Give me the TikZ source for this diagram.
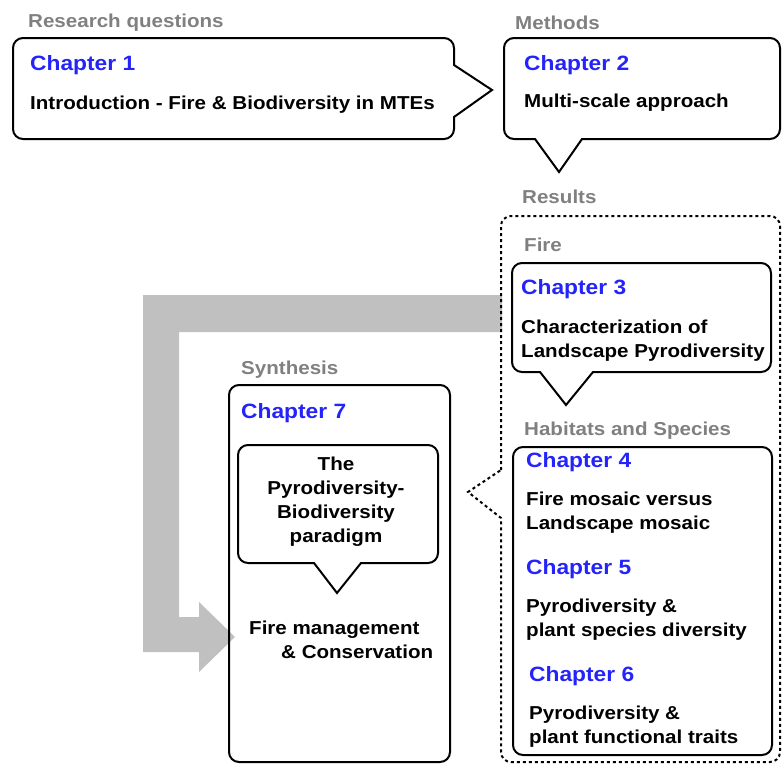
\documentclass[tikz,border=0pt]{standalone}
\usepackage{fontspec}
\setmainfont{Liberation Sans}[FakeStretch=1.1]
\usetikzlibrary{calc}

\definecolor{chapblue}{RGB}{36,36,250}
\definecolor{lblgray}{RGB}{128,128,128}
\definecolor{bandgray}{RGB}{192,192,192}

\tikzset{
  box/.style={line width=2pt, rounded corners=10pt},
  dotbox/.style={line width=2pt, dash pattern=on 3pt off 3pt},
  heading/.style={anchor=west, inner sep=0pt, yshift=-2.5pt, text=chapblue, font=\fontsize{20.7}{24}\selectfont\bfseries},
  body/.style={anchor=west, inner sep=0pt, yshift=-2.5pt, align=left, font=\fontsize{18.7}{24}\selectfont\bfseries},
  grouplabel/.style={anchor=west, inner sep=0pt, yshift=-2.5pt, text=lblgray, font=\fontsize{18.7}{24}\selectfont\bfseries}
}

\begin{document}
\begin{tikzpicture}[x=1pt,y=-1pt]
  \useasboundingbox (0,0) rectangle (784,763);
  % big grey arrow from the fire results to the synthesis
  \coordinate (bandstart) at (502,295);
  \coordinate (bandtip) at (235,637);
  \fill[bandgray] (bandstart) -- (143,295) -- (143,652) -- (199,652) -- (199,672)
    -- (bandtip) -- (199,602) -- (199,617) -- (179,617) -- (179,332) -- (502,332) -- cycle;

  % chapter 1
  \draw[box] (13,38) -- (454,38) [sharp corners] -- (454,65) -- (492,90) -- (454,117)
    [rounded corners=10pt] -- (454,139) -- (13,139) -- cycle;
  \node[grouplabel] (research) at (28,20) {Research questions};
  \node[heading] (ch1) at (30,63) {Chapter 1};
  \node[body] (ch1txt) at (30,102) {Introduction - Fire \& Biodiversity in MTEs};

  % chapter 2
  \draw[box] (504,38) -- (780,38) -- (780,139) [sharp corners] -- (582,139) -- (559,172)
    -- (535,139) [rounded corners=10pt] -- (504,139) -- cycle;
  \node[grouplabel] (methods) at (515,20) {Methods};
  \node[heading] (ch2) at (524,63) {Chapter 2};
  \node[body] (ch2txt) at (524,100) {Multi-scale approach};

  % results
  \node[grouplabel] (results) at (522,194) {Results};
  \draw[dotbox] (501,470) [rounded corners=10pt] -- (501,216) -- (780,216) -- (780,762)
    -- (501,762) [sharp corners] -- (501,518) -- (468,492) -- cycle;
  \node[grouplabel] (fire) at (524,242) {Fire};
  \draw[box] (512,263) -- (771,263) -- (771,372) [sharp corners] -- (593,372) -- (566,405)
    -- (540,372) [rounded corners=10pt] -- (512,372) -- cycle;
  \node[heading] (ch3) at (521,287) {Chapter 3};
  \node[body] (ch3txt) at (521,338) {Characterization of\\Landscape Pyrodiversity};

  \node[grouplabel] (habitats) at (524,428) {Habitats and Species};
  \draw[box] (513,447) rectangle (772,755);
  \node[heading] (ch4) at (526,460) {Chapter 4};
  \node[body] (ch4txt) at (526,510.5) {Fire mosaic versus\\Landscape mosaic};
  \node[heading] (ch5) at (526,567) {Chapter 5};
  \node[body] (ch5txt) at (526,617) {Pyrodiversity \&\\plant species diversity};
  \node[heading] (ch6) at (529,674) {Chapter 6};
  \node[body] (ch6txt) at (529,724.5) {Pyrodiversity \&\\plant functional traits};

  % synthesis
  \node[grouplabel] (synthesis) at (241,367) {Synthesis};
  \draw[box] (229,385) rectangle (450,762);
  \node[heading] (ch7) at (241,411) {Chapter 7};
  \draw[box] (238,445) -- (438,445) -- (438,563) [sharp corners] -- (361,563) -- (337,593)
    -- (314,563) [rounded corners=10pt] -- (238,563) -- cycle;
  \node[body, anchor=center, align=center] (paradigm) at (336,499.5)
    {The\\Pyrodiversity-\\Biodiversity\\paradigm};
  \node[body] (management) at (249,637) {Fire management\\\hspace{32pt}\& Conservation};
\end{tikzpicture}
\end{document}
